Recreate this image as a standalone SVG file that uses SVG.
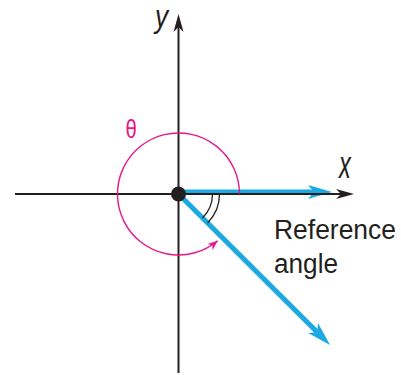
<svg xmlns="http://www.w3.org/2000/svg" width="401" height="375" viewBox="0 0 401 375">
  <style>
    .axis { stroke: #231f20; stroke-width: 2; fill: none; }
    .ray { stroke: #1ba9e1; stroke-width: 5; fill: none; }
    .theta { stroke: #e6168a; stroke-width: 1.4; fill: none; }
    .ref { stroke: #231f20; stroke-width: 1.3; fill: none; }
    .lbl { font-family: "Liberation Sans", Arial, sans-serif; fill: #231f20; }
  </style>
  <defs>
    <marker id="headBlack" markerUnits="userSpaceOnUse" markerWidth="30" markerHeight="20" refX="5" refY="10" orient="auto" overflow="visible">
      <path d="M0,5 L18,10 L0,15 L5,10 Z" fill="#231f20"/>
    </marker>
    <marker id="headCyan" markerUnits="userSpaceOnUse" markerWidth="40" markerHeight="30" refX="6" refY="15" orient="auto" overflow="visible">
      <path d="M0,8 L24,15 L0,22 L6,15 Z" fill="#1ba9e1"/>
    </marker>
    <marker id="headMag" markerUnits="userSpaceOnUse" markerWidth="20" markerHeight="20" refX="10" refY="10" orient="auto" overflow="visible">
      <path d="M0,6 L10,10 L0,14 L3,10 Z" fill="#e6168a"/>
    </marker>
  </defs>

  <g id="connectors">
    <path class="ray" d="M178.5,192 L314,192" marker-end="url(#headCyan)"/>
    <path class="ray" d="M178.5,194 L317.3,332.3" marker-end="url(#headCyan)"/>
    <path class="axis" d="M15,194 L341,194" marker-end="url(#headBlack)"/>
    <path class="axis" d="M178.5,373 L178.5,27" marker-end="url(#headBlack)"/>
    <path class="theta" d="M239.5,194 A61,61 0 1 0 217.7,240.7" marker-end="url(#headMag)"/>
    <path class="ref" d="M212.5,194 A34,34 0 0 1 202.5,218"/>
    <path class="ref" d="M219.5,194 A41,41 0 0 1 207.5,223"/>
  </g>

  <g id="origin">
    <circle cx="178.5" cy="194" r="7.5" fill="#231f20"/>
  </g>

  <g id="label-y">
    <text class="lbl" font-style="italic" font-size="32" transform="translate(155,27) scale(0.82,1)">y</text>
  </g>
  <g id="label-x">
    <text class="lbl" font-style="italic" font-size="38" transform="translate(339,177.5) scale(0.62,1)">x</text>
  </g>
  <g id="label-theta">
    <text font-family="'Liberation Sans', sans-serif" font-size="26" fill="#e6168a" transform="translate(125.5,138) scale(0.78,1)">θ</text>
  </g>
  <g id="label-reference">
    <text class="lbl" font-size="27" x="274" y="239" textLength="122" lengthAdjust="spacingAndGlyphs">Reference</text>
    <text class="lbl" font-size="27" x="274" y="273" textLength="64" lengthAdjust="spacingAndGlyphs">angle</text>
  </g>
</svg>
